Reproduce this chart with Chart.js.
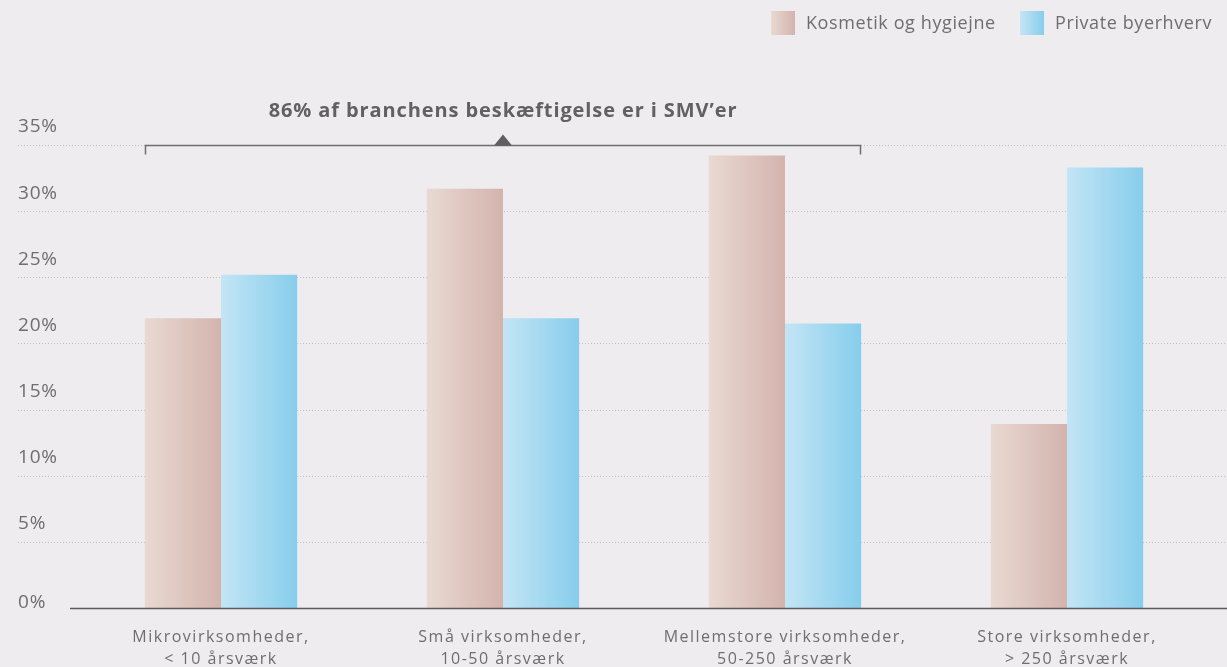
<!DOCTYPE html>
<html lang="da">
<head>
<meta charset="utf-8">
<script src="https://cdn.jsdelivr.net/npm/chart.js@4.4.1/dist/chart.umd.min.js"></script>
<style>
  html, body { margin: 0; padding: 0; background: #eeecef; }
  #wrap { width: 1227px; height: 667px; }
</style>
</head>
<body>
<div id="wrap"><canvas id="chart" width="1227" height="667"></canvas></div>
<script>
// data
const categories = [
    ['Mikrovirksomheder,', '< 10 årsværk'],
    ['Små virksomheder,', '10-50 årsværk'],
    ['Mellemstore virksomheder,', '50-250 årsværk'],
    ['Store virksomheder,', '> 250 årsværk']
];
const seriesNames = ['Kosmetik og hygiejne', 'Private byerhverv'];
const kosmetik = [21.9, 31.7, 34.2, 13.9];
const privat = [25.2, 21.9, 21.5, 33.3];
const yTicks = [0, 5, 10, 15, 20, 25, 30, 35];
const yTickLabels = ['0%', '5%', '10%', '15%', '20%', '25%', '30%', '35%'];
const annotationText = '86% af branchens beskæftigelse er i SMV’er';

const catPct = 0.54;
const colors = [['#e9d9d2', '#d3b4ad'], ['#c3e5f5', '#87cdec']];
const textGrey = '#6e6e6e';

// horizontal gradient per bar, positioned from the x scale
function barGradient(side) {
    return function (ctx) {
        const chart = ctx.chart;
        const xs = chart.scales.x;
        if (!xs || ctx.dataIndex == null || !xs.width) return colors[side][1];
        const center = xs.getPixelForValue(ctx.dataIndex);
        const bw = xs.width / categories.length * catPct / 2;
        const x0 = side === 0 ? center - bw : center;
        const g = chart.ctx.createLinearGradient(x0, 0, x0 + bw, 0);
        g.addColorStop(0, colors[side][0]);
        g.addColorStop(1, colors[side][1]);
        return g;
    };
}

const decor = {
    id: 'decor',
    beforeDatasetsDraw(chart) {
        const c = chart.ctx;
        const ys = chart.scales.y;
        c.save();
        // dotted gridlines (behind bars)
        c.strokeStyle = '#c2c0c4';
        c.lineWidth = 1;
        c.setLineDash([1, 2]);
        yTicks.forEach(v => {
            if (v === 0) return;
            const y = Math.round(ys.getPixelForValue(v)) + 0.5;
            c.beginPath();
            c.moveTo(18, y);
            c.lineTo(chart.width, y);
            c.stroke();
        });
        c.setLineDash([]);
        // y tick labels
        c.fillStyle = textGrey;
        c.font = '19px "Open Sans", sans-serif';
        c.letterSpacing = '0.8px';
        c.textAlign = 'left';
        c.textBaseline = 'middle';
        yTicks.forEach((v, i) => {
            const y = ys.getPixelForValue(v);
            c.fillText(yTickLabels[i], 18, y - (v === 0 ? 5 : 18));
        });
        c.restore();
    },
    afterDraw(chart) {
        const c = chart.ctx;
        const xs = chart.scales.x;
        const ys = chart.scales.y;
        c.save();
        // baseline
        const y0 = Math.round(ys.getPixelForValue(0)) + 0.5;
        c.strokeStyle = '#5a5a5a';
        c.lineWidth = 1.5;
        c.beginPath();
        c.moveTo(70, y0);
        c.lineTo(chart.width, y0);
        c.stroke();

        // category labels
        c.fillStyle = textGrey;
        c.font = '16px "Open Sans", sans-serif';
        c.letterSpacing = '1.5px';
        c.textAlign = 'center';
        c.textBaseline = 'middle';
        categories.forEach((lines, i) => {
            const x = xs.getPixelForValue(i);
            lines.forEach((t, j) => c.fillText(t, x, 637 + j * 22));
        });

        // bracket annotation over the SMV groups
        const bw = xs.width / categories.length * catPct / 2;
        const left = Math.round(xs.getPixelForValue(0) - bw) + 0.5;
        const right = Math.round(xs.getPixelForValue(2) + bw) - 0.5;
        const yb = Math.round(ys.getPixelForValue(35)) + 0.5;
        c.strokeStyle = '#6d6d6d';
        c.lineWidth = 1.5;
        c.beginPath();
        c.moveTo(left, yb + 9);
        c.lineTo(left, yb);
        c.lineTo(right, yb);
        c.lineTo(right, yb + 9);
        c.stroke();
        const mid = (left + right) / 2;
        c.fillStyle = '#5f5f5f';
        c.beginPath();
        c.moveTo(mid - 9, yb);
        c.lineTo(mid, yb - 11);
        c.lineTo(mid + 9, yb);
        c.closePath();
        c.fill();
        c.font = 'bold 20px "Open Sans", sans-serif';
        c.letterSpacing = '0.9px';
        c.fillStyle = '#616161';
        c.fillText(annotationText, mid, 111);

        // legend
        c.font = '18px "Open Sans", sans-serif';
        c.letterSpacing = '0.6px';
        c.textAlign = 'left';
        const legendX = [771, 1020];
        seriesNames.forEach((name, i) => {
            const g = c.createLinearGradient(legendX[i], 0, legendX[i] + 24, 0);
            g.addColorStop(0, colors[i][0]);
            g.addColorStop(1, colors[i][1]);
            c.fillStyle = g;
            c.fillRect(legendX[i], 11, 24, 24);
            c.fillStyle = textGrey;
            c.fillText(name, legendX[i] + 35, 24);
        });
        c.restore();
    }
};

new Chart(document.getElementById('chart'), {
    type: 'bar',
    data: {
        labels: categories,
        datasets: [{
            label: seriesNames[0],
            data: kosmetik,
            backgroundColor: barGradient(0),
            borderWidth: 0
        }, {
            label: seriesNames[1],
            data: privat,
            backgroundColor: barGradient(1),
            borderWidth: 0
        }]
    },
    options: {
        responsive: false,
        animation: false,
        categoryPercentage: catPct,
        barPercentage: 1.0,
        layout: {
            padding: { left: 80, right: 19, top: 145, bottom: 59 }
        },
        plugins: {
            legend: { display: false },
            tooltip: { enabled: false }
        },
        scales: {
            x: { display: false },
            y: { display: false, min: 0, max: 35 }
        }
    },
    plugins: [decor]
});
</script>
</body>
</html>
